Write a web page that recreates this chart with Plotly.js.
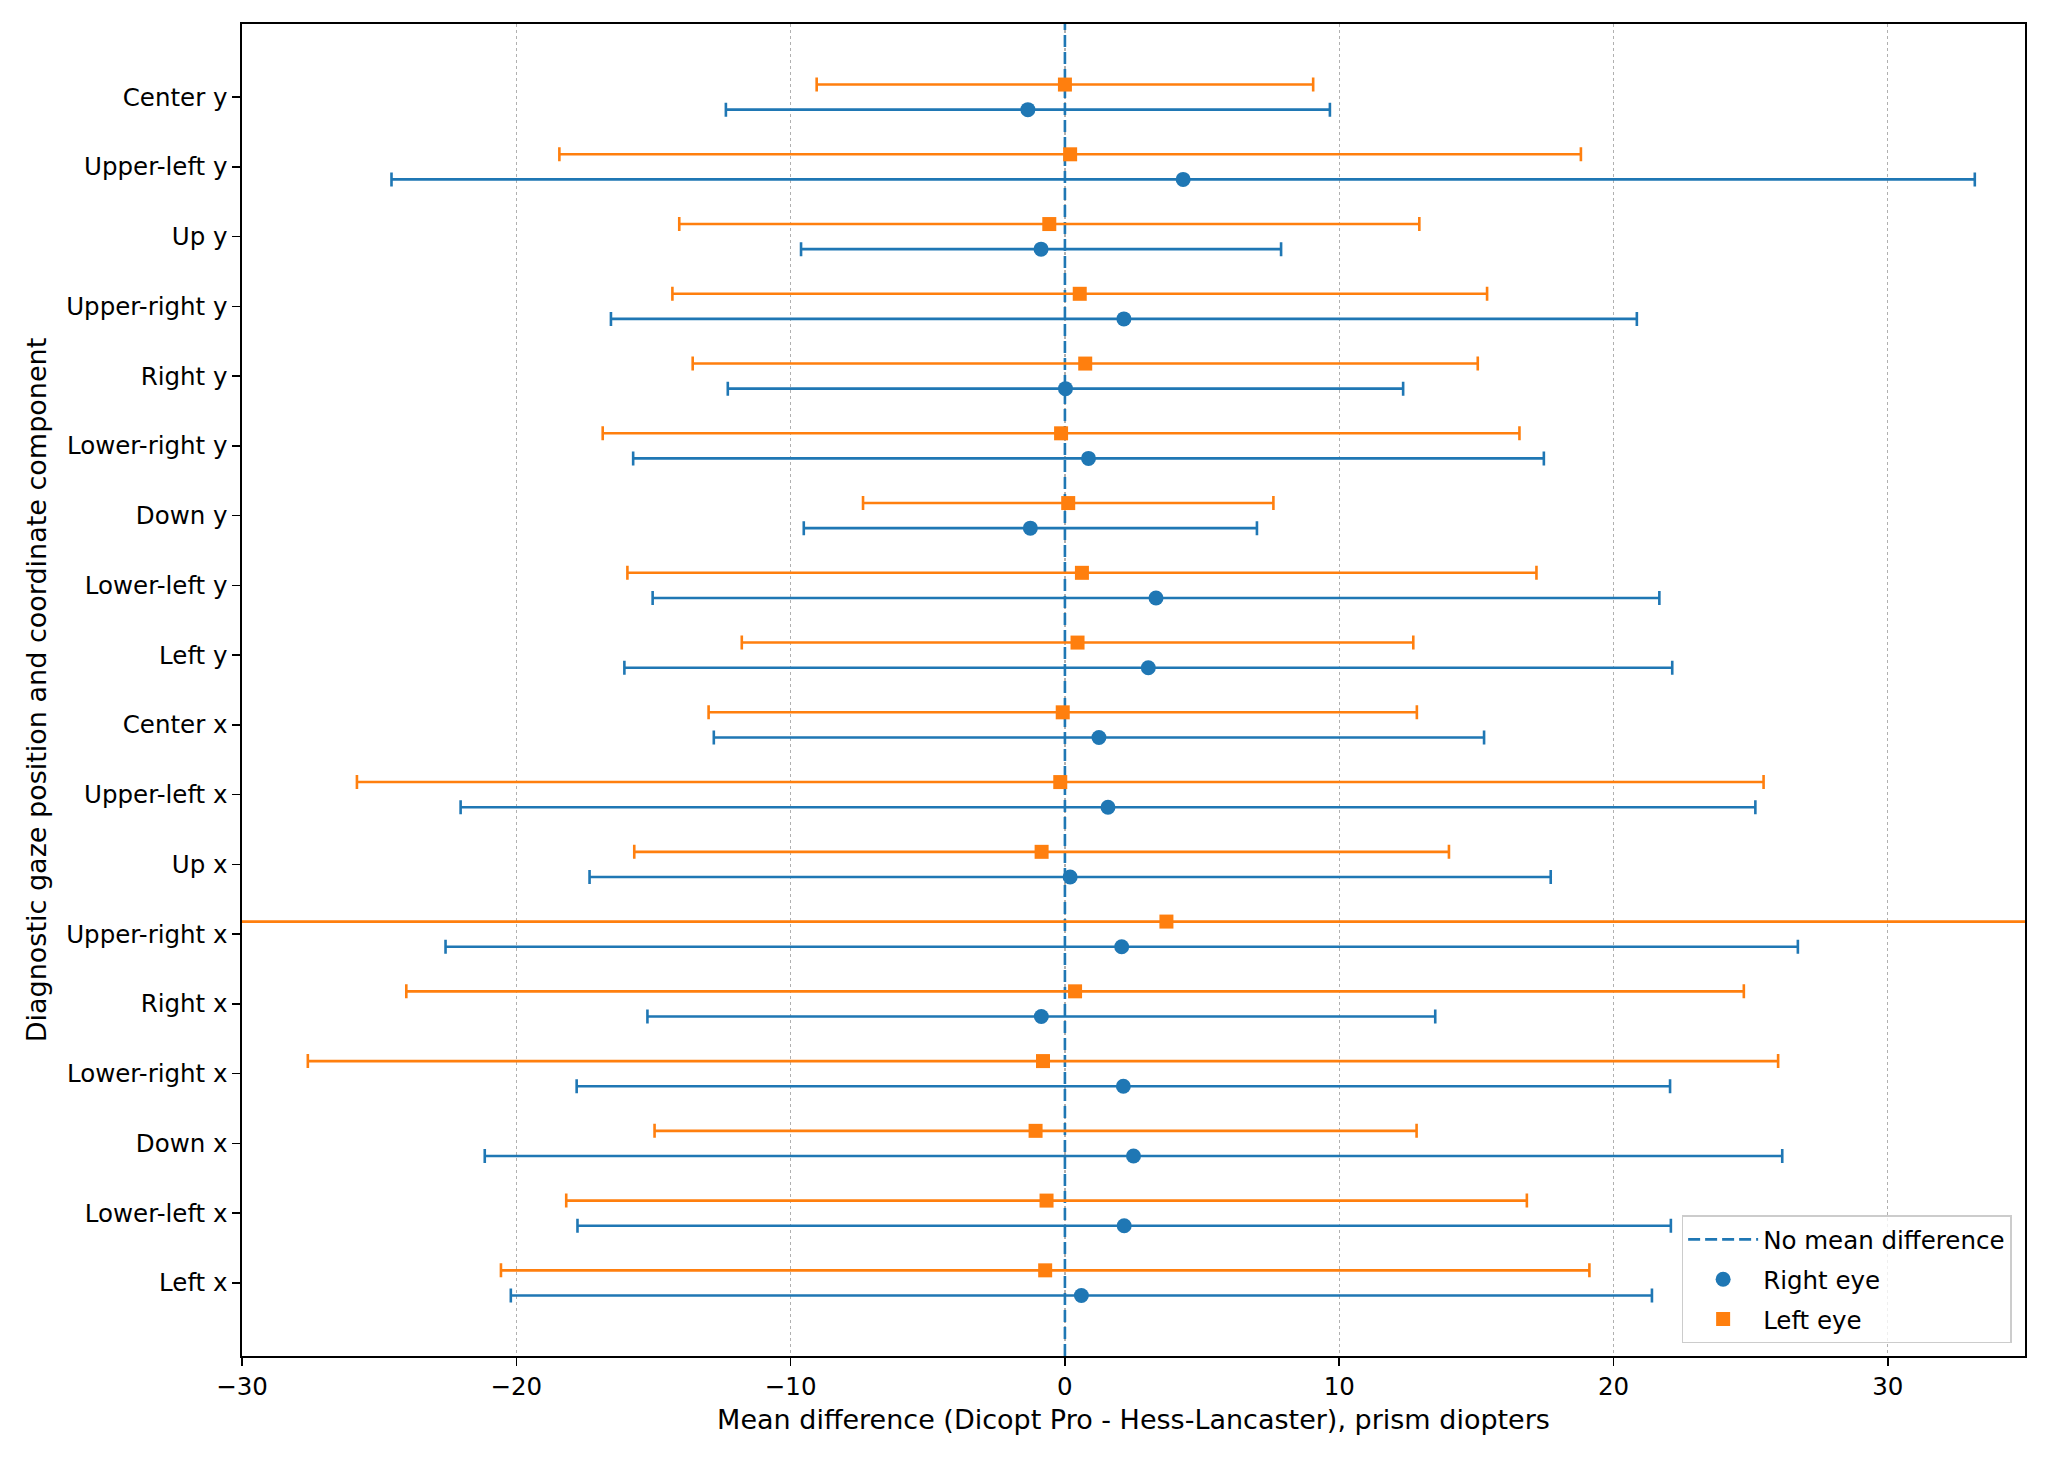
<!DOCTYPE html>
<html>
<head>
<meta charset="utf-8">
<script src="https://cdn.plot.ly/plotly-3.0.1.min.js"></script>
<style>html,body{margin:0;padding:0;background:#fff;}#chart{width:2053px;height:1460px;}</style>
</head>
<body>
<div id="chart"></div>
<script>
// Categories listed top to bottom as in the chart
const categories = ["Center y","Upper-left y","Up y","Upper-right y","Right y","Lower-right y","Down y","Lower-left y","Left y","Center x","Upper-left x","Up x","Upper-right x","Right x","Lower-right x","Down x","Lower-left x","Left x"];

// Right eye: mean difference and half-width of limits of agreement
const rightMean = [-1.35, 4.31, -0.87, 2.15, 0.02, 0.86, -1.26, 3.32, 3.04, 1.24, 1.57, 0.19, 2.07, -0.86, 2.13, 2.50, 2.16, 0.60];
const rightErr  = [11.01, 28.86, 8.75, 18.70, 12.31, 16.60, 8.26, 18.35, 19.10, 14.04, 23.60, 17.52, 24.65, 14.36, 19.93, 23.65, 19.93, 20.80];

// Left eye
const leftMean = [0.00, 0.19, -0.57, 0.54, 0.74, -0.14, 0.12, 0.62, 0.46, -0.08, -0.17, -0.85, 3.70, 0.37, -0.80, -1.07, -0.67, -0.72];
const leftErr  = [9.05, 18.62, 13.49, 14.85, 14.31, 16.71, 7.48, 16.57, 12.24, 12.91, 25.64, 14.85, 38.00, 24.38, 26.80, 13.89, 17.51, 19.84];

const xTicks = [-30, -20, -10, 0, 10, 20, 30];
const refX = 0;

const BLUE = '#1f77b4', ORANGE = '#ff7f0e';
const FONT = 'DejaVu Sans, sans-serif';
const FS_TICK = 24.5, FS_LABEL = 27, FS_LEG = 24.5;
const n = categories.length;
const pos = categories.map((c, i) => n - 1 - i);
const off = 0.18;
const yRange = [-1.048, n - 1 + 1.048];

const traces = [
  {
    type: 'scatter', mode: 'lines', name: 'No mean difference', legendgroup: 'g1',
    x: [refX, refX], y: yRange,
    line: {color: BLUE, width: 2.6, dash: '12px,5px'},
    cliponaxis: true, hoverinfo: 'skip'
  },
  {
    type: 'scatter', mode: 'markers', name: 'Right eye', legendgroup: 'g2',
    x: rightMean, y: pos.map(p => p - off),
    marker: {symbol: 'circle', size: 15, color: BLUE},
    error_x: {type: 'data', array: rightErr, visible: true, color: BLUE, thickness: 2.6, width: 7}
  },
  {
    type: 'scatter', mode: 'markers', name: 'Left eye', legendgroup: 'g3',
    x: leftMean, y: pos.map(p => p + off),
    marker: {symbol: 'square', size: 14, color: ORANGE},
    error_x: {type: 'data', array: leftErr, visible: true, color: ORANGE, thickness: 2.6, width: 7}
  }
];

const layout = {
  width: 2053, height: 1460,
  paper_bgcolor: '#ffffff', plot_bgcolor: '#ffffff',
  font: {family: FONT, size: FS_TICK, color: '#000'},
  margin: {l: 242, r: 28, t: 24, b: 104, pad: 0},
  showlegend: true,
  xaxis: {
    range: [-30, 35],
    tickvals: xTicks,
    ticktext: xTicks.map(v => v < 0 ? '\u2212' + Math.abs(v) : String(v)),
    ticks: 'outside', ticklen: 8, tickwidth: 1.6, tickcolor: '#000',
    showline: true, linecolor: '#000', linewidth: 1.6, mirror: true,
    showgrid: true, gridcolor: '#b0b0b0', gridwidth: 1.3, griddash: 'dot',
    zeroline: false,
    tickfont: {family: FONT, size: FS_TICK, color: '#000'},
    title: {text: 'Mean difference (Dicopt Pro - Hess-Lancaster), prism diopters', font: {family: FONT, size: FS_LABEL, color: '#000'}, standoff: 10},
    automargin: false
  },
  yaxis: {
    range: yRange,
    tickvals: pos, ticktext: categories,
    ticks: 'outside', ticklen: 8, tickwidth: 1.6, tickcolor: '#000',
    showline: true, linecolor: '#000', linewidth: 1.6, mirror: true,
    showgrid: false, zeroline: false,
    tickfont: {family: FONT, size: FS_TICK, color: '#000'},
    title: {text: 'Diagnostic gaze position and coordinate component', font: {family: FONT, size: FS_LABEL, color: '#000'}, standoff: 12},
    automargin: false
  },
  legend: {
    x: 0.9925, xanchor: 'right', y: 0.0094, yanchor: 'bottom',
    bgcolor: 'rgba(255,255,255,0.8)', bordercolor: '#cccccc', borderwidth: 1.5,
    font: {family: FONT, size: FS_LEG, color: '#000'},
    traceorder: 'grouped', tracegroupgap: 5, itemwidth: 70
  }
};

Plotly.newPlot('chart', traces, layout, {displayModeBar: false, staticPlot: true});
</script>
</body>
</html>
